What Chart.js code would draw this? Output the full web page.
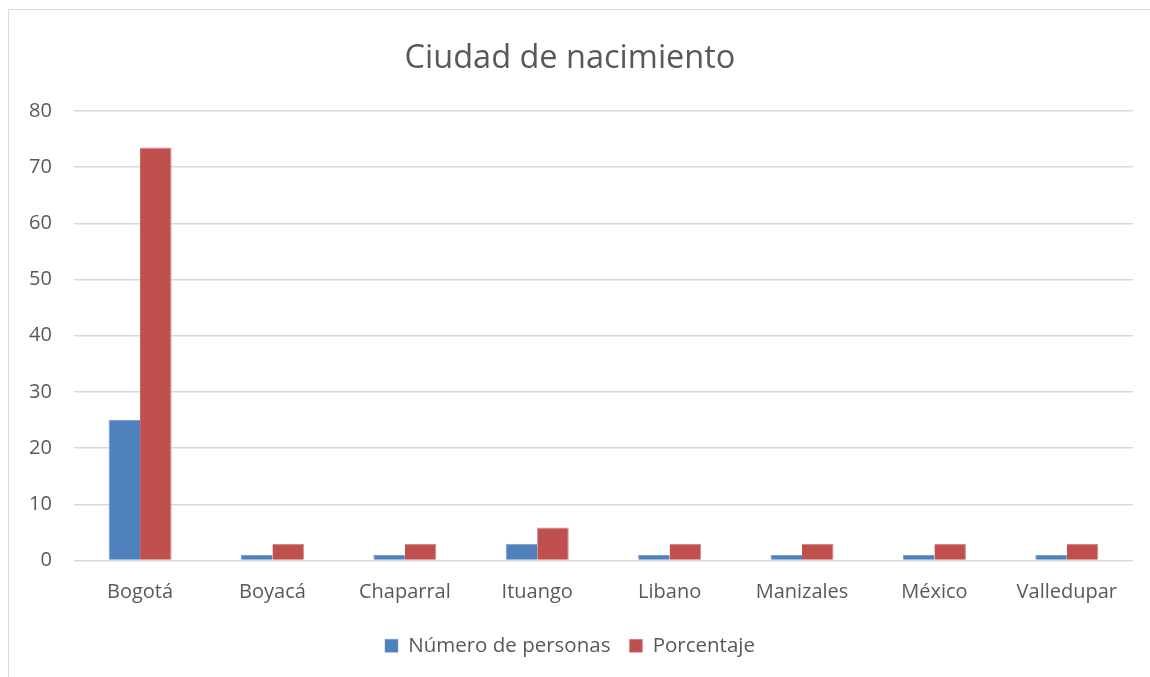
<!DOCTYPE html>
<html>
<head>
<meta charset="utf-8">
<script src="https://cdn.jsdelivr.net/npm/chart.js@4"></script>
<style>
  html, body { margin: 0; padding: 0; background: #fff; }
  #frame {
    position: absolute; left: 8px; top: 9px; width: 1160px; height: 690px;
    border: 1px solid #d9d9d9; box-sizing: border-box;
  }
  #wrap { position: absolute; left: 0; top: 0; width: 1150px; height: 677px; }
</style>
</head>
<body>
<div id="frame"></div>
<div id="wrap"><canvas id="chart"></canvas></div>
<script>
const cities = ['Bogotá', 'Boyacá', 'Chaparral', 'Ituango', 'Libano', 'Manizales', 'México', 'Valledupar'];
const personas = [25, 1, 1, 3, 1, 1, 1, 1];
const porcentaje = [73.5, 2.94, 2.94, 5.88, 2.94, 2.94, 2.94, 2.94];
const yTicks = [0, 10, 20, 30, 40, 50, 60, 70, 80];

const textColor = '#595959';
const fontFam = '"Open Sans", "Liberation Sans", sans-serif';

let chart = new Chart(document.getElementById('chart'), {
    type: 'bar',
    data: {
        labels: cities,
        datasets: [
            {
                label: 'Número de personas',
                data: personas,
                backgroundColor: '#4F81BD',
                borderColor: '#7a9fcf',
                borderWidth: { left: 1, right: 0, top: 1, bottom: 0 }
            },
            {
                label: 'Porcentaje',
                data: porcentaje,
                backgroundColor: '#C0504D',
                borderColor: '#d58a88',
                borderWidth: { left: 0, right: 1, top: 1, bottom: 0 }
            }
        ]
    },
    options: {
        responsive: true,
        maintainAspectRatio: false,
        animation: false,
        layout: { padding: { left: 7, right: 17, top: 14, bottom: 11 } },
        categoryPercentage: 0.476,
        barPercentage: 1.0,
        plugins: {
            title: {
                display: true,
                text: 'Ciudad de nacimiento',
                color: textColor,
                font: { family: fontFam, size: 32.5, weight: 'normal' },
                padding: { top: 25, bottom: 33 }
            },
            legend: {
                position: 'bottom',
                labels: {
                    color: textColor,
                    font: { family: fontFam, size: 20.5 },
                    boxWidth: 13,
                    boxHeight: 13,
                    padding: 19
                }
            },
            tooltip: { enabled: false }
        },
        scales: {
            x: {
                grid: { display: false },
                border: { display: false },
                ticks: {
                    color: textColor,
                    font: { family: fontFam, size: 20 },
                    padding: 12
                }
            },
            y: {
                min: 0,
                max: 80,
                afterBuildTicks: (axis) => { axis.ticks = yTicks.map(v => ({ value: v })); },
                grid: { color: '#d9d9d9', lineWidth: 1.5, drawTicks: false },
                border: { display: false },
                ticks: {
                    color: textColor,
                    font: { family: fontFam, size: 20 },
                    padding: 22
                }
            }
        }
    }
});
</script>
</body>
</html>
